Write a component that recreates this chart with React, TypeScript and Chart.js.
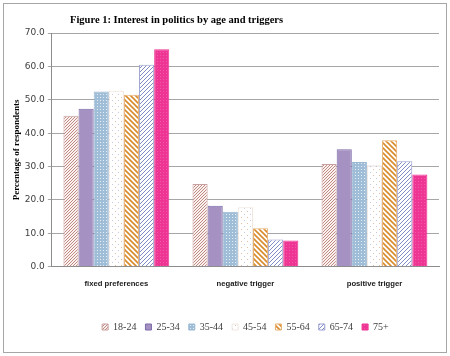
import React, { useEffect, useRef } from "react";
import { Chart, registerables } from "chart.js";

Chart.register(...registerables);

const categories = ["fixed preferences", "negative trigger", "positive trigger"];
const ageGroups = ["18-24", "25-34", "35-44", "45-54", "55-64", "65-74", "75+"];
const v1824 = [45.2, 24.8, 30.8];
const v2534 = [47.3, 18.3, 35.2];
const v3544 = [52.5, 16.5, 31.4];
const v4554 = [52.7, 17.8, 30.4];
const v5564 = [51.5, 11.5, 37.9];
const v6574 = [60.5, 8.2, 31.6];
const v75 = [65.1, 7.9, 27.6];
const seriesValues = [v1824, v2534, v3544, v4554, v5564, v6574, v75];
const yTicks = [0, 10, 20, 30, 40, 50, 60, 70];
const titleText = "Figure 1: Interest in politics by age and triggers";
const yTitle = "Percentage of respondents";

function makeTile(size: number, draw: (c: CanvasRenderingContext2D) => void) {
  const cv = document.createElement("canvas");
  cv.width = size;
  cv.height = size;
  const c = cv.getContext("2d")!;
  draw(c);
  return c.createPattern(cv, "repeat")!;
}

function diag(c: CanvasRenderingContext2D, s: number, color: string, w: number, forward: boolean) {
  c.strokeStyle = color;
  c.lineWidth = w;
  c.beginPath();
  if (forward) {
    c.moveTo(0, s); c.lineTo(s, 0);
    c.moveTo(-1, 1); c.lineTo(1, -1);
    c.moveTo(s - 1, s + 1); c.lineTo(s + 1, s - 1);
  } else {
    c.moveTo(0, 0); c.lineTo(s, s);
    c.moveTo(-1, s - 1); c.lineTo(1, s + 1);
    c.moveTo(s - 1, -1); c.lineTo(s + 1, 1);
  }
  c.stroke();
}

function buildPatterns() {
  const p1 = makeTile(3, (c) => {
    c.fillStyle = "#fbf1ef"; c.fillRect(0, 0, 3, 3);
    diag(c, 3, "#b06e68", 0.8, true);
  });
  const p2 = "#a591c2";
  const p3 = makeTile(3, (c) => {
    c.fillStyle = "#9fbdd6"; c.fillRect(0, 0, 3, 3);
    c.fillStyle = "#e4eef6"; c.fillRect(1, 1, 1, 1);
  });
  const p4 = makeTile(6, (c) => {
    c.fillStyle = "#ffffff"; c.fillRect(0, 0, 6, 6);
    c.fillStyle = "#e0c0a8"; c.fillRect(1, 1, 1, 1);
    c.fillStyle = "#c8c8d8"; c.fillRect(4, 4, 1, 1);
  });
  const p5 = makeTile(5, (c) => {
    c.fillStyle = "#ffffff"; c.fillRect(0, 0, 5, 5);
    diag(c, 5, "#d98b2b", 1.6, false);
  });
  const p6 = makeTile(4, (c) => {
    c.fillStyle = "#ffffff"; c.fillRect(0, 0, 4, 4);
    diag(c, 4, "#4a5aae", 0.7, true);
  });
  const p7 = makeTile(3, (c) => {
    c.fillStyle = "#ee3594"; c.fillRect(0, 0, 3, 3);
    c.fillStyle = "#f25aa8"; c.fillRect(1, 1, 1, 1);
  });
  return [p1, p2, p3, p4, p5, p6, p7];
}

const borderColors = ["#c8a0a0", "#7a6aa6", "#9ab8d2", "#f0e6e0", "#e8b070", "#9aa0d0", "#ee3594"];

export default function App() {
  const ref = useRef<HTMLCanvasElement | null>(null);
  useEffect(() => {
    if (!ref.current) return;
    const patterns = buildPatterns();
    const framePlugin = {
      id: "frame",
      beforeDraw(chart: any) {
        const c = chart.ctx;
        c.save();
        c.fillStyle = "#ffffff";
        c.fillRect(0, 0, chart.width, chart.height);
        c.strokeStyle = "#a6a6a6";
        c.lineWidth = 1;
        c.strokeRect(3.5, 3.5, chart.width - 7, chart.height - 7);
        c.restore();
      },
      afterDraw(chart: any) {
        const c = chart.ctx;
        c.save();
        c.fillStyle = "#000000";
        c.font = "bold 10.5px 'Liberation Serif'";
        c.textAlign = "left";
        c.textBaseline = "middle";
        c.fillText(titleText, 70, 20);
        c.restore();
      },
    };
    const chart = new Chart(ref.current, {
      type: "bar",
      data: {
        labels: categories,
        datasets: ageGroups.map((g, i) => ({
          label: g,
          data: seriesValues[i],
          backgroundColor: patterns[i] as any,
          borderColor: borderColors[i],
          borderWidth: 1,
        })),
      },
      options: {
        responsive: false,
        animation: false,
        layout: { padding: { left: 11, top: 33, right: 11, bottom: 14 } },
        datasets: { bar: { categoryPercentage: 0.82, barPercentage: 1 } } as any,
        plugins: {
          tooltip: { enabled: false },
          title: { display: false },
          legend: {
            position: "bottom",
            fullSize: false,
            labels: {
              boxWidth: 6,
              boxHeight: 6,
              padding: 9,
              color: "#404040",
              font: { family: "'Liberation Serif'", size: 10 },
            },
          },
        },
        scales: {
          x: {
            grid: { display: false },
            border: { color: "#8c8c8c" },
            afterFit: (scale: any) => {
              scale.height += 19;
            },
            ticks: {
              color: "#202020",
              padding: 5,
              font: { family: "'Liberation Sans'", size: 7.7, weight: "bold" },
            },
          },
          y: {
            min: 0,
            max: 70,
            afterBuildTicks: (axis: any) => {
              axis.ticks = yTicks.map((v) => ({ value: v }));
            },
            ticks: {
              color: "#404040",
              padding: 3,
              font: { family: "'DejaVu Sans'", size: 9 },
              callback: (v: any) => Number(v).toFixed(1),
            },
            grid: { color: "#a6a6a6", tickLength: 4 },
            border: { color: "#8c8c8c" },
            title: {
              display: true,
              text: yTitle,
              color: "#000000",
              padding: { top: 0, bottom: 0 },
              font: { family: "'Liberation Serif'", size: 9, weight: "bold" },
            },
          },
        },
      },
      plugins: [framePlugin],
    });
    return () => chart.destroy();
  }, []);
  return (
    <div style={{ position: "absolute", left: 0, top: 0, width: 450, height: 356 }}>
      <canvas ref={ref} width={450} height={356} />
    </div>
  );
}
